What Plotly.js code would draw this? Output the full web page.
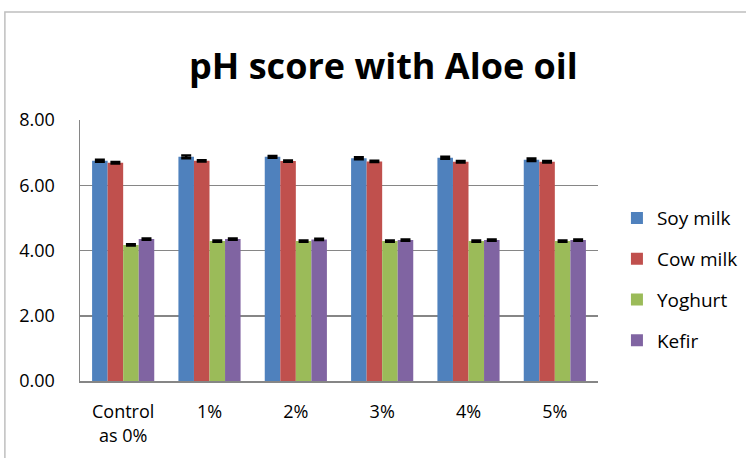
<!DOCTYPE html>
<html>
<head>
<meta charset="utf-8">
<script src="https://cdn.plot.ly/plotly-3.0.1.min.js"></script>
<style>
  html, body { margin: 0; padding: 0; background: #fff; }
  #chart { width: 746px; height: 458px; }
</style>
</head>
<body>
<div id="chart"></div>
<script>
var categories = ["Control<br>as 0%", "1%", "2%", "3%", "4%", "5%"];
var soy = [6.75, 6.87, 6.87, 6.83, 6.84, 6.78];
var cow = [6.69, 6.75, 6.74, 6.73, 6.72, 6.72];
var yoghurt = [4.17, 4.29, 4.29, 4.29, 4.29, 4.29];
var kefir = [4.35, 4.35, 4.34, 4.32, 4.32, 4.32];
var soy_err = [0.03, 0.04, 0.03, 0.03, 0.03, 0.04];
var cow_err = [0.02, 0.02, 0.02, 0.02, 0.02, 0.02];
var yoghurt_err = [0.02, 0.02, 0.02, 0.02, 0.02, 0.02];
var kefir_err = [0.02, 0.02, 0.02, 0.02, 0.02, 0.02];

var font = "'Open Sans', 'Noto Sans', sans-serif";

function makeTrace(name, y, err, color) {
  return {
    x: categories,
    y: y,
    name: name,
    type: 'bar',
    legendgroup: name,
    marker: {color: color, line: {width: 0}},
    error_y: {type: 'data', array: err, visible: true, color: '#000000', thickness: 2.5, width: 5}
  };
}

var traces = [
  makeTrace('Soy milk', soy, soy_err, '#4f81bd'),
  makeTrace('Cow milk', cow, cow_err, '#c0504d'),
  makeTrace('Yoghurt', yoghurt, yoghurt_err, '#9bbb59'),
  makeTrace('Kefir', kefir, kefir_err, '#8064a2')
];

var layout = {
  width: 746,
  height: 458,
  margin: {l: 80, r: 148, t: 120, b: 77},
  paper_bgcolor: '#ffffff',
  plot_bgcolor: '#ffffff',
  font: {family: font, color: '#000000', size: 18},
  title: {
    text: '<b>pH score with Aloe oil</b>',
    font: {family: font, size: 36, color: '#000000'},
    xref: 'container', x: 0.514, xanchor: 'center',
    y: 0.855, yanchor: 'middle'
  },
  barmode: 'group',
  bargap: 0.28,
  bargroupgap: 0,
  xaxis: {
    type: 'category',
    showline: true, linecolor: '#868686', linewidth: 1.5,
    ticks: '', tickfont: {size: 18}, showgrid: false,
    ticklabelstandoff: 14
  },
  yaxis: {
    range: [0, 8], dtick: 2, tickformat: '.2f',
    showgrid: true, gridcolor: '#868686', gridwidth: 1.5,
    showline: true, linecolor: '#868686', linewidth: 1.5,
    ticks: 'outside', ticklen: 8, tickcolor: '#ffffff',
    ticklabelstandoff: 12,
    tickfont: {size: 18},
    zeroline: false
  },
  legend: {
    xref: 'container', x: 0.827, xanchor: 'left', y: 0.39, yanchor: 'middle',
    traceorder: 'grouped', tracegroupgap: 13,
    font: {size: 19}, itemwidth: 30
  },
  shapes: [{
    type: 'rect', xref: 'paper', yref: 'paper',
    x0: -0.145, x1: 1.4, y0: -0.5, y1: 1.414,
    line: {color: '#bfbfbf', width: 1.5}, fillcolor: 'rgba(0,0,0,0)',
    layer: 'below'
  }]
};

Plotly.newPlot('chart', traces, layout, {displayModeBar: false, staticPlot: true});
</script>
</body>
</html>
